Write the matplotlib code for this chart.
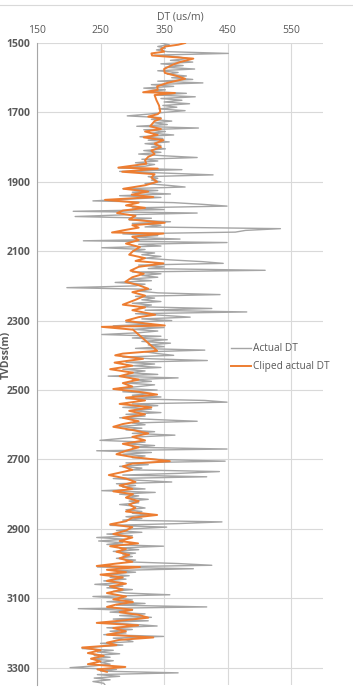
import numpy as np
from matplotlib import pyplot as plt
from matplotlib.lines import Line2D

actual_depth = np.arange(1500, 3351, 5)
actual_dt = [
    345, 358, 340, 352, 338, 355, 451, 335, 372, 388, 360, 395, 345, 380, 352, 398, 340, 372, 355, 385,
    362, 395, 340, 411, 330, 365, 318, 352, 325, 385, 338, 399, 345, 378, 350, 390, 348, 370, 342, 383,
    350, 325, 292, 345, 330, 362, 335, 355, 307, 404, 318, 352, 330, 365, 312, 348, 325, 358, 320, 345,
    330, 352, 318, 345, 310, 350, 402, 315, 340, 305, 335, 320, 278, 378, 280, 355, 427, 325, 340, 330,
    345, 320, 355, 383, 285, 340, 300, 360, 280, 345, 295, 238, 365, 411, 449, 300, 350, 207, 402, 290,
    210, 330, 295, 360, 300, 345, 320, 533, 478, 462, 285, 340, 300, 375, 223, 449, 310, 345, 252, 320,
    300, 335, 315, 345, 320, 360, 410, 443, 310, 350, 325, 509, 300, 345, 315, 340, 295, 330, 273, 320,
    305, 197, 330, 310, 340, 438, 305, 335, 315, 345, 300, 330, 310, 425, 320, 480, 305, 350, 391, 315,
    362, 290, 330, 270, 350, 300, 340, 310, 252, 345, 300, 355, 315, 360, 325, 350, 305, 414, 320, 340,
    365, 285, 330, 418, 290, 335, 300, 345, 285, 320, 295, 340, 262, 372, 300, 330, 290, 335, 310, 280,
    339, 285, 330, 300, 345, 290, 414, 449, 300, 340, 285, 330, 300, 345, 290, 320, 280, 335, 402, 300,
    320, 275, 315, 290, 335, 300, 367, 310, 280, 249, 320, 290, 335, 300, 449, 244, 330, 285, 320, 300,
    340, 446, 290, 325, 280, 315, 300, 437, 375, 285, 417, 270, 310, 362, 275, 305, 285, 320, 252, 336,
    280, 310, 290, 325, 295, 310, 280, 305, 320, 290, 315, 300, 325, 290, 315, 285, 441, 370, 265, 354,
    300, 275, 315, 260, 300, 244, 290, 247, 285, 260, 349, 280, 310, 270, 305, 285, 300, 275, 305, 290,
    372, 425, 245, 396, 270, 305, 260, 295, 265, 290, 255, 285, 241, 285, 260, 300, 270, 290, 359, 238,
    280, 300, 260, 320, 275, 417, 215, 300, 265, 320, 280, 330, 270, 325, 250, 300, 339, 260, 300, 265,
    290, 255, 349, 270, 290, 301, 250, 285, 245, 221, 270, 245, 280, 240, 265, 235, 270, 250, 265, 240,
    202, 275, 250, 372, 245, 280, 240, 265, 238, 255, 257,
]

# Clipped actual DT
clip_depth = [
    1500, 1505, 1510, 1518, 1525, 1530, 1536, 1545, 1555, 1562, 1575, 1586, 1595, 1603, 1615, 1625,
    1635, 1642, 1644, 1650, 1665, 1680, 1698, 1705, 1712, 1718, 1725, 1740, 1748, 1755, 1765, 1772,
    1780, 1790, 1800, 1810, 1820, 1828, 1838, 1848, 1859, 1862, 1871, 1878, 1888, 1900, 1910, 1920,
    1928, 1937, 1944, 1952, 1960, 1968, 1975, 1983, 1990, 1998, 2008, 2018, 2025, 2032, 2040, 2046,
    2049, 2058, 2068, 2078, 2088, 2100, 2110, 2120, 2128, 2135, 2145, 2156, 2165, 2175, 2188, 2198,
    2208, 2218, 2228, 2240, 2254, 2262, 2270, 2283, 2290, 2300, 2308, 2314, 2318, 2326, 2387, 2395,
    2400, 2410, 2421, 2430, 2440, 2450, 2460, 2470, 2480, 2490, 2497, 2505, 2513, 2522, 2530, 2540,
    2550, 2560, 2570, 2580, 2590, 2598, 2606, 2615, 2625, 2635, 2645, 2655, 2665, 2675, 2685, 2693,
    2705, 2712, 2720, 2730, 2738, 2745, 2755, 2765, 2775, 2785, 2792, 2800, 2810, 2820, 2830, 2840,
    2850, 2860, 2868, 2878, 2887, 2895, 2905, 2915, 2925, 2935, 2942, 2950, 2958, 2966, 2975, 2985,
    2995, 3000, 3007, 3010, 3018, 3025, 3032, 3040, 3050, 3058, 3066, 3075, 3085, 3095, 3103, 3111,
    3118, 3125, 3133, 3140, 3148, 3156, 3163, 3171, 3178, 3186, 3195, 3205, 3213, 3220, 3228, 3235,
    3242, 3250, 3258, 3266, 3274, 3282, 3290, 3298, 3305, 3312,
]
clip_dt = [
    383, 372, 352, 345, 350, 330, 331, 396, 375, 364, 350, 351, 370, 383, 355, 339,
    340, 317, 367, 335, 338, 342, 344, 340, 325, 345, 335, 328, 345, 320, 340, 318,
    349, 335, 345, 330, 335, 325, 320, 322, 278, 340, 284, 335, 330, 339, 320, 286,
    325, 299, 333, 257, 310, 290, 320, 285, 276, 305, 295, 351, 300, 310, 285, 268,
    349, 300, 310, 290, 312, 301, 295, 320, 305, 349, 310, 297, 318, 300, 289, 310,
    325, 300, 320, 305, 285, 320, 300, 336, 310, 290, 320, 351, 252, 301, 339, 285,
    273, 317, 272, 300, 265, 301, 280, 310, 285, 300, 270, 310, 339, 290, 320, 280,
    330, 295, 320, 285, 310, 285, 270, 300, 325, 300, 320, 285, 310, 290, 275, 300,
    359, 300, 285, 300, 280, 263, 290, 305, 280, 300, 270, 301, 290, 310, 295, 305,
    290, 339, 300, 290, 265, 300, 290, 270, 300, 280, 309, 265, 290, 275, 295, 280,
    300, 275, 244, 312, 260, 290, 250, 285, 260, 290, 265, 285, 260, 290, 270, 301,
    275, 260, 300, 280, 310, 325, 290, 244, 309, 270, 290, 260, 333, 280, 260, 275,
    221, 250, 230, 255, 235, 250, 230, 289, 245, 260,
]

x_ticks = [150, 250, 350, 450, 550]
y_ticks = [1500, 1700, 1900, 2100, 2300, 2500, 2700, 2900, 3100, 3300]

plt.rcParams['font.family'] = ['Open Sans', 'DejaVu Sans']
text_color = '#595959'

fig = plt.figure(figsize=(3.53, 6.96), dpi=100)
ax = fig.add_axes([37/353, 11/696, 286/353, 642/696])

ax.plot(actual_dt, actual_depth, color='#A5A5A5', lw=1.0, label='Actual DT', zorder=3)
ax.plot(clip_dt, clip_depth, color='#ED7D31', lw=1.4, label='Cliped actual DT', zorder=4)

ax.set_xlim(150, 600)
ax.set_ylim(3350, 1500)
ax.set_xticks(x_ticks)
ax.set_yticks(y_ticks)
ax.xaxis.tick_top()
ax.xaxis.set_label_position('top')
ax.set_xlabel('DT (us/m)', fontsize=7.5, color=text_color, labelpad=4)
ax.tick_params(axis='both', length=0, labelsize=7.5, labelcolor=text_color)
ax.tick_params(axis='x', pad=5)
ax.tick_params(axis='y', pad=5)
for lab in ax.get_yticklabels():
    lab.set_fontweight('bold')

# y axis title sits right at the left edge in the original
fig.text(6/353, 1 - 355/696, 'TVDss(m)', rotation=90, ha='center', va='center',
         fontsize=7.5, color=text_color, fontweight='bold')

ax.grid(True, color='#D9D9D9', lw=0.8, zorder=0)
ax.set_axisbelow(True)
for side in ['top', 'right', 'bottom']:
    ax.spines[side].set_visible(False)
ax.spines['left'].set_color('#A6A6A6')
ax.spines['left'].set_linewidth(0.8)

ax.legend(loc='upper left', bbox_to_anchor=(0.628, 0.52), bbox_transform=fig.transFigure,
          frameon=False, fontsize=7.3, labelcolor=text_color, handlelength=2.0,
          handletextpad=0.15, labelspacing=0.7)

# thin chart border line at the top
fig.add_artist(Line2D([0, 1], [1 - 5/696, 1 - 5/696], color='#D9D9D9', lw=0.8))

fig.savefig('out.png', dpi=100)
